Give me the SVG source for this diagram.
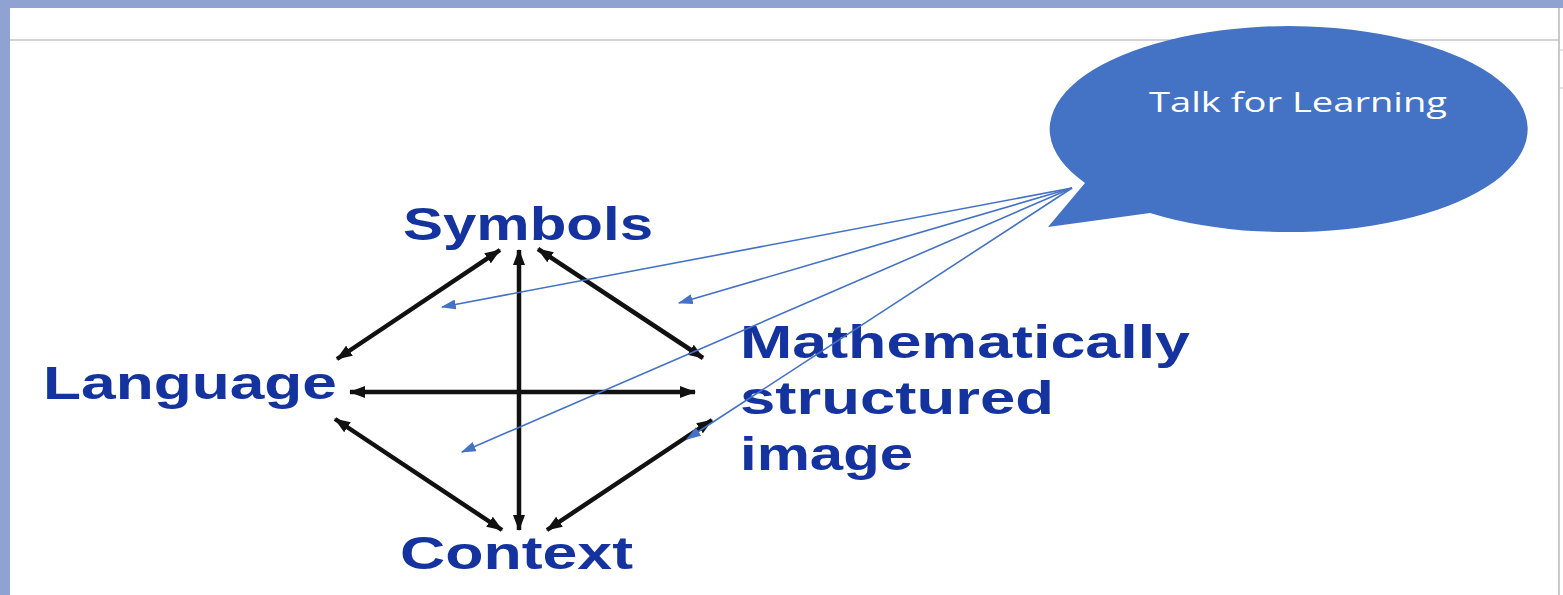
<svg xmlns="http://www.w3.org/2000/svg" width="1563" height="595" viewBox="0 0 1563 595">
<style>
.lbl{font-family:"Liberation Sans",Arial,sans-serif;font-weight:bold;font-size:47px;fill:#14339f}
.blk{stroke:#111;stroke-width:4.5;fill:none;marker-start:url(#ah);marker-end:url(#ah)}
.bl{stroke:#4472c4;stroke-width:1.6;fill:none;marker-end:url(#bh)}
</style>
<defs>
<marker id="ah" viewBox="0 0 16 12" refX="15" refY="6" markerWidth="16" markerHeight="12" markerUnits="userSpaceOnUse" orient="auto-start-reverse"><path d="M0,0 L16,6 L0,12 Z" fill="#111"/></marker>
<marker id="bh" viewBox="0 0 12 8" refX="11" refY="4" markerWidth="15" markerHeight="10" markerUnits="userSpaceOnUse" orient="auto"><path d="M0,0 L12,4 L0,8 Z" fill="#4472c4"/></marker>
</defs>
<rect x="0" y="0" width="1563" height="595" fill="#ffffff"/>
<rect x="0" y="0" width="1563" height="8" fill="#8fa2d1"/>
<rect x="0" y="0" width="10" height="595" fill="#8fa2d1"/>
<line x1="10" y1="40" x2="1559" y2="40" stroke="#c4c4c4" stroke-width="1.5"/>
<line x1="1559" y1="8" x2="1559" y2="595" stroke="#b8b8b8" stroke-width="1.5"/>
<line x1="1559" y1="50" x2="1563" y2="50" stroke="#c8c8c8" stroke-width="1"/>
<line x1="1559" y1="88" x2="1563" y2="88" stroke="#c8c8c8" stroke-width="1"/>

<g id="bubble">
<path d="M1085,183 L1048,227 L1150,213 A239,103 0 1 0 1085,183 Z" fill="#4472c4"/>
<text x="1149" y="112" font-family="'Open Sans','Noto Sans',sans-serif" font-size="28" fill="#ffffff" textLength="298" lengthAdjust="spacingAndGlyphs">Talk for Learning</text>
</g>
<g id="symbols"><text class="lbl" x="403" y="240" textLength="250" lengthAdjust="spacingAndGlyphs">Symbols</text></g>
<g id="language"><text class="lbl" x="43" y="399" textLength="294" lengthAdjust="spacingAndGlyphs">Language</text></g>
<g id="math">
<text class="lbl" x="740" y="358" textLength="450" lengthAdjust="spacingAndGlyphs">Mathematically</text>
<text class="lbl" x="740" y="414" textLength="314" lengthAdjust="spacingAndGlyphs">structured</text>
<text class="lbl" x="740" y="470" textLength="173" lengthAdjust="spacingAndGlyphs">image</text>
</g>
<g id="context"><text class="lbl" x="400" y="569" textLength="233" lengthAdjust="spacingAndGlyphs">Context</text></g>

<g id="connectors">
<line class="blk" x1="500" y1="250" x2="337" y2="359"/>
<line class="blk" x1="519" y1="250" x2="519" y2="530"/>
<line class="blk" x1="538" y1="249" x2="703" y2="358"/>
<line class="blk" x1="350" y1="392" x2="695" y2="392"/>
<line class="blk" x1="335" y1="419" x2="502" y2="530"/>
<line class="blk" x1="712" y1="420" x2="547" y2="530"/>
<line class="bl" x1="1072" y1="188" x2="442" y2="307"/>
<line class="bl" x1="1072" y1="188" x2="679" y2="303"/>
<line class="bl" x1="1072" y1="188" x2="462" y2="452"/>
<line class="bl" x1="1072" y1="188" x2="687" y2="439"/>
</g>
</svg>
